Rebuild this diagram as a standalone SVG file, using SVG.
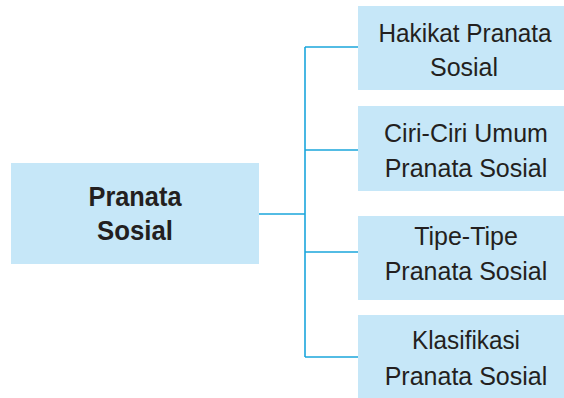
<svg xmlns="http://www.w3.org/2000/svg" width="564" height="398" viewBox="0 0 564 398">
<style>
.box{fill:#c6e7f8;}
.t{font-family:"Liberation Sans",Arial,sans-serif;font-size:25px;fill:#231f20;text-anchor:middle;}
.tb{font-family:"Liberation Sans",Arial,sans-serif;font-size:27px;font-weight:bold;fill:#231f20;text-anchor:middle;}
.ln{stroke:#1ba6dc;stroke-width:1.6;fill:none;}
</style>
<rect width="564" height="398" fill="#ffffff"/>
<g id="connectors">
<path class="ln" d="M259 214 H305 M305 47 V357 M305 47 H358 M305 150 H358 M305 252 H358 M305 357 H358"/>
</g>
<g id="root">
<rect class="box" x="11" y="163" width="248" height="101"/>
<text class="tb" x="135" y="205.5" textLength="93" lengthAdjust="spacingAndGlyphs">Pranata</text>
<text class="tb" x="135" y="240" textLength="76" lengthAdjust="spacingAndGlyphs">Sosial</text>
</g>
<g id="n1">
<rect class="box" x="358" y="6" width="206" height="84"/>
<text class="t" x="465" y="41.5" textLength="173" lengthAdjust="spacingAndGlyphs">Hakikat Pranata</text>
<text class="t" x="464" y="75.5">Sosial</text>
</g>
<g id="n2">
<rect class="box" x="358" y="106" width="206" height="85"/>
<text class="t" x="466" y="142">Ciri-Ciri Umum</text>
<text class="t" x="466" y="176.5">Pranata Sosial</text>
</g>
<g id="n3">
<rect class="box" x="358" y="216" width="206" height="84"/>
<text class="t" x="466" y="245">Tipe-Tipe</text>
<text class="t" x="466" y="280">Pranata Sosial</text>
</g>
<g id="n4">
<rect class="box" x="358" y="315" width="206" height="83"/>
<text class="t" x="466" y="349" textLength="108" lengthAdjust="spacingAndGlyphs">Klasifikasi</text>
<text class="t" x="466" y="385">Pranata Sosial</text>
</g>
</svg>
